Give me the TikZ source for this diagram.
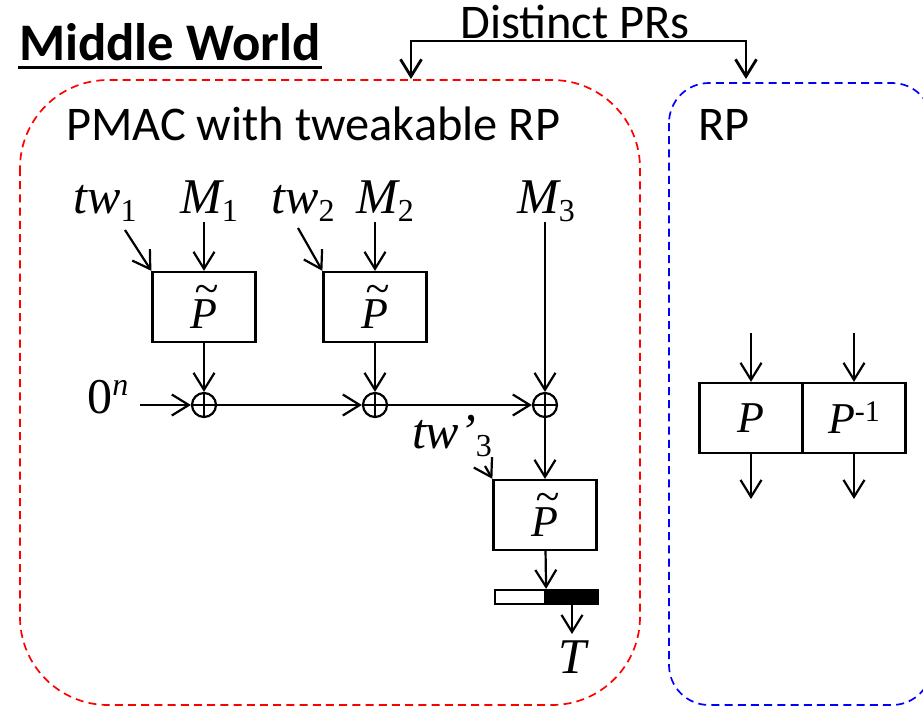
\documentclass[tikz,border=0pt]{standalone}
\usepackage{fontspec}
\setmainfont{Carlito}
\newfontfamily\tms{Liberation Serif}
\usetikzlibrary{arrows.meta}

\newcommand\lsub[2]{#1\raisebox{-4pt}{\fontsize{16}{16}\selectfont\upshape #2}}
\newcommand\tperm{\makebox[0pt][l]{\hspace{0.1em}\raisebox{0.55em}{\textasciitilde}}P}

\begin{document}
\begin{tikzpicture}[x=0.5pt,y=-0.5pt,line width=1.1pt,
  >={Straight Barb[length=8.5pt,width=10.5pt]},
  var/.style={font=\tms\itshape\fontsize{25}{30}\selectfont,inner sep=0pt,anchor=base},
  perm/.style={draw,minimum width=51.5pt,minimum height=35pt,inner sep=0pt,
    font=\tms\itshape\fontsize{22}{26}\selectfont},
  xor/.style={draw,circle,minimum size=12pt,inner sep=0pt,
    path picture={\draw (path picture bounding box.north) -- (path picture bounding box.south)
      (path picture bounding box.west) -- (path picture bounding box.east);}},
  sans/.style={font=\fontsize{24.2}{29}\selectfont,inner sep=0pt,anchor=base west},
  world/.style={draw=#1,line width=0.85pt,dash pattern=on 4pt off 2.6pt}]
  \useasboundingbox (0,0) rectangle (923,707);

  % headings
  \node[sans,font=\bfseries\fontsize{26.4}{31}\selectfont] (mw) at (18,60) {Middle World};
  \draw[line width=1.5pt] ([yshift=-3.5pt]mw.base west) -- ([yshift=-3.5pt]mw.base east);
  \node[sans,anchor=base] (dpr) at (575,38) {Distinct PRs};

  % the two worlds
  \draw[world=red,rounded corners=44pt] (20,80) rectangle (640,705);
  \draw[world=blue,rounded corners=20pt] (669,83) rectangle (932,705);
  \coordinate (brl) at (411,79);
  \coordinate (brr) at (746,79);
  \draw[<->,line width=1.4pt] (brl) -- ++(0,-38) -| (brr);
  \node[sans] (pmac) at (65,140) {PMAC with tweakable RP};
  \node[sans] (rp) at (697,140) {RP};

  % PMAC inputs
  \node[var] (tw1) at (105,213) {\lsub{tw}{1}};
  \node[var] (m1) at (209,213) {\lsub{M}{1}};
  \node[var] (tw2) at (303,213) {\lsub{tw}{2}};
  \node[var] (m2) at (385,213) {\lsub{M}{2}};
  \node[var] (m3) at (546,213) {\lsub{M}{3}};
  \node[var] (zero) at (108,413) {{\upshape 0}\raisebox{9pt}{\fontsize{16}{16}\selectfont n}};
  \coordinate (tw1e) at (125,230);
  \coordinate (tw2e) at (298,228);

  % blocks
  \node[perm] (b1) at (204,307) {\tperm};
  \node[perm] (b2) at (375,307) {\tperm};
  \node[xor] (x1) at (204,405) {};
  \node[xor] (x2) at (375,405) {};
  \node[xor] (x3) at (545,405) {};
  \node[var] (tw3) at (452,448) {\lsub{tw’}{3}};
  \coordinate (tw3e) at (485,466);
  \node[perm] (b3) at (545,515) {\tperm};
  \node[draw,fill=white,minimum width=25pt,minimum height=7pt,inner sep=0pt] (barw) at (520,597) {};
  \node[draw,fill=black,minimum width=26.5pt,minimum height=7pt,inner sep=0pt] (barb) at (571.5,597) {};
  \node[var,anchor=north,inner sep=3pt] (tag) at (572,634) {T};

  \draw[->] (tw1e) -- (b1.north west);
  \draw[->] (m1.south -| b1) -- (b1);
  \draw[->] (tw2e) -- (b2.north west);
  \draw[->] (m2.south -| b2) -- (b2);
  \draw[->] (b1) -- (x1);
  \draw[->] (b2) -- (x2);
  \draw[->] ([xshift=5pt]zero.east |- x1) -- (x1);
  \draw[->] (x1) -- (x2);
  \draw[->] (x2) -- (x3);
  \draw[->] (m3.south -| x3) -- (x3);
  \draw[->] (x3) -- (b3);
  \draw[->] (tw3e) -- (b3.north west);
  \draw[->] (b3) -- (barw.north east);
  \draw[->] (barb.south -| tag) -- (tag);

  % RP
  \node[perm] (p) at (751,418) {P};
  \node[perm,anchor=west] (pinv) at ([xshift=-1.1pt]p.east) {P\raisebox{6pt}{\fontsize{15}{15}\selectfont\upshape -1}};
  \coordinate (pin) at (751,333);
  \coordinate (pout) at (751,499);
  \draw[->] (pin) -- (p);
  \draw[->] (p) -- (pout);
  \draw[->] (pinv.north |- pin) -- (pinv);
  \draw[->] (pinv) -- (pinv.south |- pout);
\end{tikzpicture}
\end{document}
